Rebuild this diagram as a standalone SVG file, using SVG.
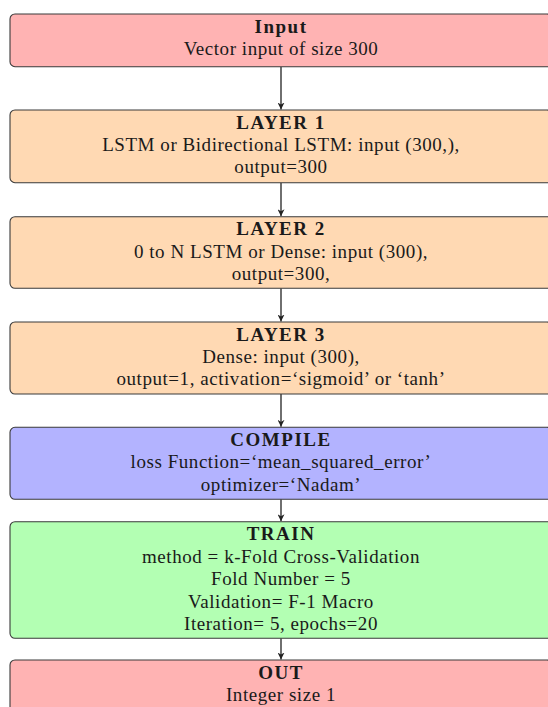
<svg xmlns="http://www.w3.org/2000/svg" width="548" height="707" viewBox="0 0 548 707">
<style>
  .box { stroke: #3a3a3a; stroke-width: 1.1; }
  .t { font-family: "Liberation Serif", "Times New Roman", serif; font-size: 19px; letter-spacing: 0.55px; fill: #1a1a1a; text-anchor: middle; }
  .b { font-weight: bold; letter-spacing: 1.5px; }
  .edge { stroke: #222; stroke-width: 1.3; fill: none; marker-end: url(#arr); }
  .red { fill: #ffb3b3; }
  .orange { fill: #ffd9b3; }
  .blue { fill: #b3b3ff; }
  .green { fill: #b3ffb3; }
</style>
<defs>
  <marker id="arr" viewBox="0 0 10 10" refX="10" refY="5" markerWidth="7" markerHeight="7" markerUnits="userSpaceOnUse" orient="auto">
    <path d="M0,0 L10,5 L0,10 L3,5 Z" fill="#222"/>
  </marker>
</defs>
<rect width="548" height="707" fill="#ffffff"/>
<g id="connectors">
  <line class="edge" x1="281" y1="66.7" x2="281" y2="109.5"/>
  <line class="edge" x1="281" y1="182.7" x2="281" y2="216.2"/>
  <line class="edge" x1="281" y1="288.3" x2="281" y2="321.5"/>
  <line class="edge" x1="281" y1="394" x2="281" y2="426.8"/>
  <line class="edge" x1="281" y1="499.3" x2="281" y2="521.2"/>
  <line class="edge" x1="281" y1="638.3" x2="281" y2="659.5"/>
</g>
<g id="input">
  <rect class="box red" x="10" y="14" width="542" height="52.7" rx="5"/>
  <text class="t b" x="281" y="33">Input</text>
  <text class="t" x="281" y="55.4">Vector input of size 300</text>
</g>
<g id="layer1">
  <rect class="box orange" x="10" y="110" width="542" height="72.7" rx="5"/>
  <text class="t b" x="281" y="128.8">LAYER 1</text>
  <text class="t" x="281" y="151">LSTM or Bidirectional LSTM: input (300,),</text>
  <text class="t" x="281" y="173.4">output=300</text>
</g>
<g id="layer2">
  <rect class="box orange" x="10" y="216.7" width="542" height="71.6" rx="5"/>
  <text class="t b" x="281" y="235.3">LAYER 2</text>
  <text class="t" x="281" y="257.7">0 to N LSTM or Dense:  input (300),</text>
  <text class="t" x="281" y="280.1">output=300,</text>
</g>
<g id="layer3">
  <rect class="box orange" x="10" y="322" width="542" height="72" rx="5"/>
  <text class="t b" x="281" y="340.6">LAYER 3</text>
  <text class="t" x="281" y="363">Dense:  input (300),</text>
  <text class="t" x="281" y="385.4">output=1, activation=‘sigmoid’ or ‘tanh’</text>
</g>
<g id="compile">
  <rect class="box blue" x="10" y="427.3" width="542" height="72" rx="5"/>
  <text class="t b" x="281" y="445.9">COMPILE</text>
  <text class="t" x="281" y="468.3">loss Function=‘mean_squared_error’</text>
  <text class="t" x="281" y="490.7">optimizer=‘Nadam’</text>
</g>
<g id="train">
  <rect class="box green" x="10" y="521.7" width="542" height="116.6" rx="5"/>
  <text class="t b" x="281" y="540.3">TRAIN</text>
  <text class="t" x="281" y="562.7">method = k-Fold Cross-Validation</text>
  <text class="t" x="281" y="585.1">Fold Number = 5</text>
  <text class="t" x="281" y="607.5">Validation= F-1 Macro</text>
  <text class="t" x="281" y="629.9">Iteration= 5, epochs=20</text>
</g>
<g id="out">
  <rect class="box red" x="10" y="660" width="542" height="80" rx="5"/>
  <text class="t b" x="281" y="678.6">OUT</text>
  <text class="t" x="281" y="701">Integer size 1</text>
</g>
</svg>
